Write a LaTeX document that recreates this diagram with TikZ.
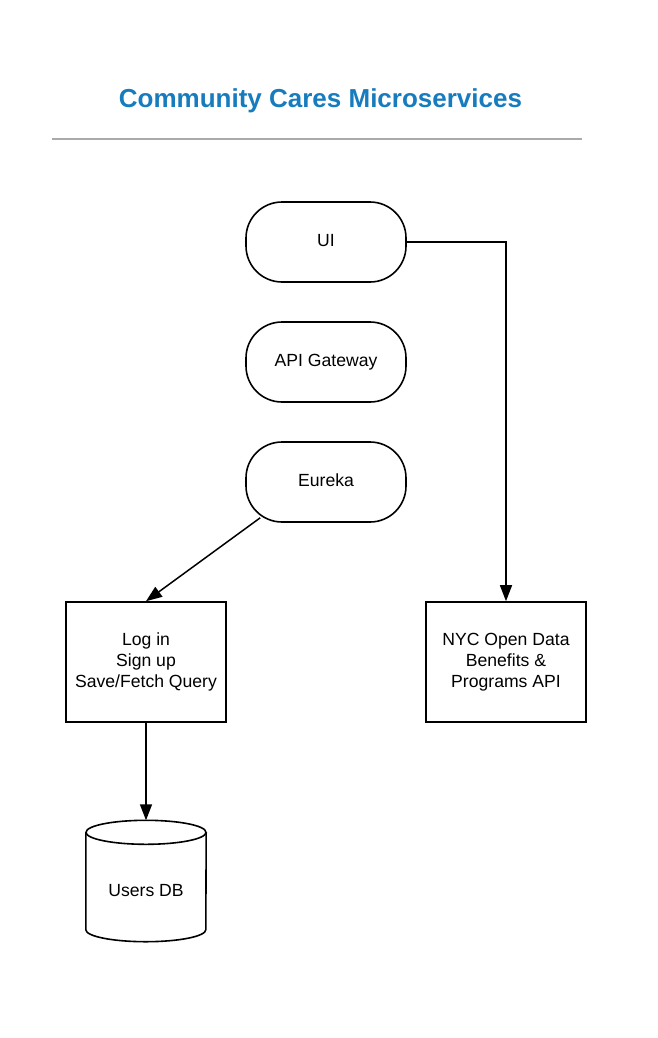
\documentclass[tikz,border=0pt]{standalone}
\usepackage{fontspec}
\setmainfont{Liberation Sans}
\usetikzlibrary{arrows.meta,calc}
\definecolor{titleblue}{RGB}{22,124,190}
\definecolor{rulegray}{RGB}{170,170,170}
\tikzset{
  base/.style={draw=black,line width=1.6pt,inner sep=0pt,align=center,
    font=\fontsize{17.6}{21}\selectfont},
  pill/.style={base,rounded corners=36pt,minimum width=160pt,minimum height=80pt,
    text height=13pt,text depth=5pt},
  svcbox/.style={base,minimum width=160pt,minimum height=120pt},
  conn/.style={line width=1.5pt,-{Triangle[length=16pt,width=12pt]}},
}
\begin{document}
\begin{tikzpicture}[x=1pt,y=-1pt]
\useasboundingbox (0,0) rectangle (657,1038);
\node[font=\fontsize{26}{30}\selectfont\bfseries,text=titleblue] (title) at (320.5,101) {Community Cares Microservices};
\draw[rulegray,line width=2pt] (52,139) coordinate (r1) -- (582,139) coordinate (r2);

\node[pill] (ui) at (326,242) {UI};
\node[pill] (gw) at (326,362) {API Gateway};
\node[pill] (eu) at (326,482) {Eureka};
\node[svcbox] (login) at (146,662) {Log in\\Sign up\\Save/Fetch Query};
\node[svcbox] (nyc) at (506,662) {NYC Open Data\\Benefits \&\\Programs API};

% cylinder
\node[inner sep=0pt,minimum width=120pt,minimum height=121pt] (db) at (146,881) {};
\draw[line width=1.6pt]
  ($(db.north west)+(0,12)$) -- ($(db.south west)+(0,-12)$)
  arc[start angle=180,end angle=0,x radius=60,y radius=12]
  -- ($(db.north east)+(0,12)$);
\draw[line width=1.6pt] ($(db.north)+(0,12)$) ellipse[x radius=60,y radius=12];
\node[font=\fontsize{17.6}{21}\selectfont] (dbl) at (146,891) {Users DB};

\draw[conn] (ui.east) -| (nyc.north);
\draw[conn] ([xshift=15pt,yshift=5pt]eu.south west) -- (login.north);
\draw[conn] (login.south) -- (db.north);
\end{tikzpicture}
\end{document}
